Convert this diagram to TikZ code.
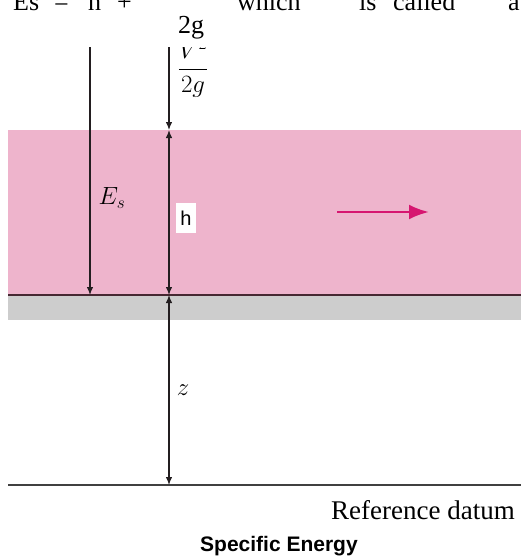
\documentclass[tikz,border=0pt]{standalone}
\usepackage{fontspec}
\setmainfont{Liberation Serif}
\newfontfamily\arialfont{Liberation Sans}
\usetikzlibrary{arrows.meta}
\definecolor{waterpink}{RGB}{238,180,204}
\definecolor{bedgrey}{RGB}{205,205,205}
\definecolor{flowmag}{RGB}{214,22,112}
\definecolor{lineink}{RGB}{35,30,32}
\definecolor{bedink}{RGB}{70,40,50}
\begin{document}
\begin{tikzpicture}[x=1pt,y=-1pt,
  dimline/.style={draw=lineink, line width=1.2pt},
  tipend/.style={-{Latex[length=8pt,width=6.5pt]}},
  tipboth/.style={{Latex[length=8pt,width=6.5pt]}-{Latex[length=8pt,width=6.5pt]}},
  bodytext/.style={font=\fontsize{26}{30}\selectfont, inner sep=0pt, anchor=base west},
  mathlabel/.style={font=\fontsize{24}{28}\selectfont, inner sep=1pt}]
\useasboundingbox (0,0) rectangle (521,558);
\clip (0,0) rectangle (521,558);

% clipped text line above the figure
\node[bodytext] (tEs) at (13,10) {Es};
\node[bodytext] (tEq) at (54,10) {=};
\node[bodytext] (th) at (88,10) {h};
\node[bodytext] (tplus) at (117,10) {+};
\node[bodytext] (twhich) at (237,10) {which};
\node[bodytext] (tis) at (359,10) {is};
\node[bodytext] (tcalled) at (393,10) {called};
\node[bodytext] (ta) at (508,10) {a};
\node[bodytext, anchor=base] (t2g) at (191,33) {2g};

% the figure
\begin{scope}
\clip (0,47) rectangle (521,558);
\fill[waterpink] (8,130) rectangle (521,295);
\fill[bedgrey] (8,295) rectangle (521,320);
\draw[bedink, line width=1.4pt] (8,295) -- (521,295);
\draw[black!75, line width=1.6pt] (8,485) -- (521,485);

\coordinate (topL) at (90,40);
\coordinate (bedL) at (90,295);
\coordinate (topC) at (169,40);
\coordinate (surf) at (169,130);
\coordinate (bed) at (169,295);
\coordinate (datum) at (169,485);

\draw[dimline, tipend] (topL) -- (bedL);
\draw[dimline, tipend] (topC) -- (surf);
\draw[dimline, tipboth] (surf) -- (bed);
\draw[dimline, tipboth] (bed) -- (datum);

\node[mathlabel, anchor=base] (vhead) at (193,75) {$\displaystyle\frac{V^2}{2g}$};
\node[mathlabel] (es) at (112,198) {$E_s$};
\node[fill=white, inner sep=2pt, minimum width=20pt, minimum height=30pt,
      font=\arialfont\fontsize{20}{22}\selectfont] (hlab) at (186,218) {h};
\node[mathlabel, fill=white, fill opacity=0.6, text opacity=1] (zlab) at (183,390) {$z$};

\coordinate (flowA) at (337,212);
\coordinate (flowB) at (429,212);
\draw[flowmag, line width=2.8pt, -{Latex[length=20pt,width=15pt]}] (flowA) -- (flowB);

\node[font=\fontsize{27}{30}\selectfont, inner sep=0pt, anchor=base east] (refdat) at (515,519) {Reference datum};
\node[font=\arialfont\bfseries\fontsize{21}{24}\selectfont, inner sep=0pt, anchor=base west] (caption) at (200,551) {Specific Energy};
\end{scope}
\end{tikzpicture}
\end{document}
